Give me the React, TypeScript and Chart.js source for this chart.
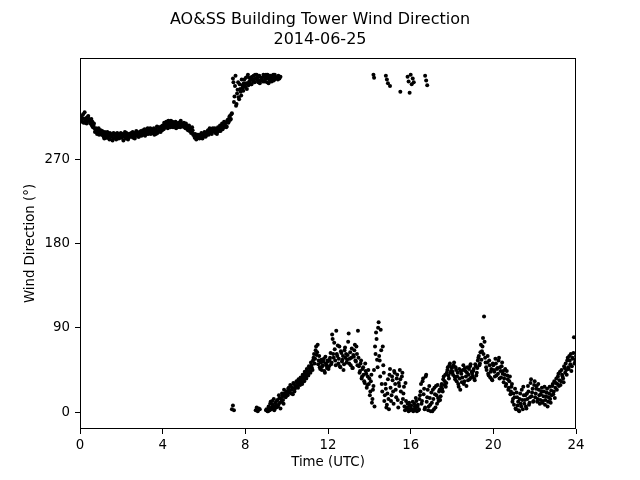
import React, { useEffect, useRef } from "react";
import { Chart, registerables } from "chart.js";

Chart.register(...registerables);

const TITLE_LINES = ["AO&SS Building Tower Wind Direction", "2014-06-25"];
const X_LABEL = "Time (UTC)";
const Y_LABEL = "Wind Direction (°)";
const X_TICKS = [0, 4, 8, 12, 16, 20, 24];
const Y_TICKS = [0, 90, 180, 270];

// Sampling interval of each reading list (hours)
const STEP = 0.05;

// Morning band (from 00:00)
const MORNING_START = 0;
const morningValues = [
  312, 315, 310, 318, 313, 309, 314, 311, 316, 312,
  308, 313, 310, 306, 303, 300, 302, 298, 303, 299,
  301, 296, 298, 294, 299, 295, 297, 293, 296, 298,
  294, 297, 292, 296, 295, 291, 298, 294, 296, 293,
  297, 295, 290, 296, 294, 298, 295, 293, 297, 296,
  294, 299, 296, 292, 297, 295, 298, 294, 296, 300,
  297, 301, 298, 295, 300, 302, 297, 299, 303, 298,
  301, 299, 296, 302, 300, 298, 304, 301, 299, 303,
  306, 302, 308, 304, 307, 303, 309, 305, 311, 306,
  304, 308, 306, 303, 307, 305, 309, 304, 306, 308,
  305, 307, 303, 306, 302, 304, 300, 303, 299, 301,
  297, 293, 295, 292, 294, 296, 293, 295, 297, 294,
  296, 298, 295, 299, 301, 298, 300, 302, 299, 301,
  300, 298, 302, 299, 301, 303, 300, 305, 302, 304,
  306, 309, 305, 312, 310, 316, 313, 319,
];
const MORNING_START_B = 0.025;
const morningValuesB = [
  316, 311, 314, 309, 320, 312, 308, 315, 313, 310,
  311, 306, 304, 308, 299, 303, 297, 301, 296, 300,
  297, 300, 295, 292, 297, 293, 299, 295, 291, 296,
  295, 290, 298, 293, 297, 294, 296, 292, 295, 298,
  293, 297, 294, 299, 292, 296, 291, 297, 294, 298,
  296, 293, 298, 295, 300, 297, 294, 299, 297, 295,
  299, 296, 302, 299, 297, 303, 300, 301, 297, 302,
  298, 303, 300, 297, 305, 299, 302, 300, 305, 301,
  304, 309, 305, 310, 306, 311, 307, 304, 308, 310,
  307, 305, 310, 307, 304, 309, 306, 311, 307, 305,
  309, 304, 308, 305, 301, 306, 302, 298, 304, 296,
  295, 297, 291, 296, 293, 292, 295, 298, 292, 296,
  299, 294, 297, 300, 296, 303, 299, 297, 303, 300,
  303, 301, 297, 304, 300, 306, 302, 308, 304, 310,
  308, 304, 311, 309, 315, 312, 318,
];

// Northerly band after the shift (from 07:24)
const NORTH_START = 7.4;
const northValues = [
  356, 331, 348, 327, 340, 352, 334, 345, 338, 349,
  343, 355, 347, 351, 358, 349, 353, 357, 350, 355,
  359, 352, 356, 360, 354, 358, 351, null, 357, 353,
  358, 355, 360, 352, 357, 359, 354, 358, 356, 360,
  355, 358, null, 357, 359, 356, 358,
];
const NORTH_START_B = 7.425;
const northValuesB = [
  352, 337, 359, 329, 344, 336, 350, 342, 355, 346,
  351, 348, 357, 345, 360, 352, 356, 350, 358, 353,
  355, 360, null, 357, 352, 359, 354, 356, null, 360,
  353, 358, 356, 360, 351, 355, 359, 353, 357, 354,
  360, 356, null, 355, 358,
];

// Wrapped values just past north around 07:21
const WRAP_START = 7.35;
const wrapValues = [3, 7, 2];

// Wrapped values around 08:30
const WRAP2_START = 8.5;
const wrap2Values = [2, 5, 1, 4, 3];

// Main low band from 09:00 to 24:00
const LOW_START = 9.0;
const lowValues = [
  2, null, 1, 4, 9, 3, 12, 6, 2, 10,
  5, 13, 8, 15, 4, 11, 17, 9, 20, 16,
  22, 18, 26, 21, 28, 24, 19, 30, 25, 27,
  31, 26, 33, 29, 35, 30, 38, 33, 41, 36,
  44, 39, 47, 42, 50, 45, 58, 52, 66, 61,
  72, 55, 48, 53, 45, 50, 57, 42, 52, 47,
  54, 49, 58, 51, 83, 62, 74, 55, 87, 60,
  52, 70, 48, 63, 56, 45, 66, 58, 53, 61,
  84, 57, 50, 68, 47, 59, 72, 54, 62, 87,
  49, 44, 55, 38, 48, 33, 52, 41, 29, 45,
  36, 22, 40, 14, 28, 6, 62, 78, 48, 96,
  55, 88, 30, 70, 42, 18, 25, 8, 35, 3,
  46, 12, 38, 22, 44, 30, 16, 40, 5, 28,
  35, 10, 42, 20, 6, 31, 3, 9, 1, 7,
  4, null, 11, 2, 6, 15, 1, 8, 3, 18,
  30, 12, 36, 25, 5, 40, 16, 2, 28, 8,
  21, 1, 14, 26, 5, 18, 29, 12, 24, 17,
  30, 22, 38, 33, 27, 42, 48, 36, 52, 44,
  47, 40, 53, 35, 45, 38, 30, 46, 24, 41,
  37, 50, 33, 44, 28, 48, 40, 35, 51, 43,
  38, 46, 34, 49, 42, 55, 60, 52, 72, 65,
  79, 102, 58, 48, 53, 41, 55, 37, 46, 34,
  50, 43, 57, 39, 47, 55, 36, 44, 49, 41,
  32, 40, 28, 44, 35, 26, 38, 22, 30, 14,
  8, 25, 3, 16, 11, 1, 20, 6, 13, 27,
  9, 18, 4, 14, 22, 10, 31, 17, 25, 12,
  33, 20, 28, 14, 24, 9, 19, 26, 12, 22,
  8, 17, 25, 11, 20, 14, 23, 28, 19, 33,
  26, 36, 30, 41, 34, 29, 45, 38, 32, 47,
  52, 40, 58, 46, 55, 62, 49, 57, 80, 53,
  60,
];
const LOW_START_B = 9.025;
const lowValuesB = [
  3, 1, 6, 2, 11, 5, 8, 14, 4, 7,
  12, 6, 18, 10, 14, 20, 13, 24, 18, 21,
  19, 25, 23, 29, 20, 26, 31, 22, 28, 33,
  28, 35, 30, 37, 32, 40, 35, 43, 38, 46,
  41, 49, 44, 53, 47, 55, 62, 57, 70, 64,
  51, 60, 46, 56, 49, 54, 44, 59, 50, 55,
  46, 56, 63, 53, 78, 58, 67, 50, 62, 71,
  57, 49, 65, 54, 60, 51, 69, 62, 56, 75,
  52, 64, 58, 47, 61, 66, 55, 70, 50, 58,
  42, 52, 36, 46, 40, 31, 44, 26, 38, 30,
  18, 33, 10, 24, 45, 70, 85, 56, 90, 60,
  38, 66, 22, 50, 12, 30, 5, 20, 14, 40,
  26, 18, 34, 9, 42, 24, 36, 13, 31, 45,
  22, 38, 14, 27, 2, 12, 5, 3, 10, 2,
  7, 3, 1, 9, 4, 12, 6, 2, 14, 22,
  9, 33, 19, 3, 38, 11, 24, 6, 15, 1,
  10, 24, 3, 19, 28, 9, 15, 22, 13, 27,
  25, 35, 29, 40, 31, 45, 39, 50, 42, 48,
  43, 50, 38, 48, 33, 42, 27, 36, 44, 32,
  45, 30, 47, 38, 42, 34, 46, 49, 37, 41,
  44, 36, 51, 39, 47, 58, 50, 64, 56, 70,
  62, 75, 53, 45, 60, 39, 50, 43, 35, 52,
  45, 38, 52, 46, 41, 58, 48, 37, 53, 44,
  36, 46, 30, 39, 24, 33, 19, 27, 11, 20,
  16, 4, 21, 7, 2, 14, 9, 24, 3, 18,
  13, 6, 20, 28, 8, 16, 35, 21, 11, 29,
  16, 25, 11, 30, 18, 13, 22, 10, 17, 27,
  13, 21, 6, 16, 27, 10, 18, 30, 22, 15,
  31, 24, 38, 28, 43, 33, 40, 36, 49, 42,
  45, 55, 48, 60, 51, 44, 58, 63, 52, 56,
];

// Scattered northerly readings in the afternoon
const lateNorthTimes = [14.2, 14.23, 14.8, 14.85, 14.9, 15.0, 15.5, 15.85, 15.9, 15.95, 16.0, 16.05, 16.1, 16.15, 16.7, 16.75, 16.8];
const lateNorthValues = [360, 357, 359, 355, 351, 348, 342, 358, 353, 341, 360, 350, 356, 352, 359, 354, 349];

type Pt = { x: number; y: number };

function segment(start: number, values: (number | null)[]): Pt[] {
  const out: Pt[] = [];
  values.forEach((v, i) => {
    if (v !== null) out.push({ x: start + i * STEP, y: v });
  });
  return out;
}

function pairs(times: number[], values: number[]): Pt[] {
  return times.map((t, i) => ({ x: t, y: values[i] }));
}

const FONT = "'DejaVu Sans', sans-serif";

const frame = {
  id: "frame",
  afterDraw(chart: any) {
    const { ctx, chartArea } = chart;
    ctx.save();
    ctx.strokeStyle = "#000";
    ctx.lineWidth = 1;
    const l = Math.round(chartArea.left) + 0.5;
    const t = Math.round(chartArea.top) + 0.5;
    const r = Math.round(chartArea.right) - 0.5;
    const b = Math.round(chartArea.bottom) - 0.5;
    ctx.strokeRect(l, t, r - l, b - t);
    ctx.restore();
  },
};

export default function App() {
  const ref = useRef<HTMLCanvasElement | null>(null);

  useEffect(() => {
    if (!ref.current) return;
    const data: Pt[] = [
      ...segment(MORNING_START, morningValues),
      ...segment(MORNING_START_B, morningValuesB),
      ...segment(NORTH_START, northValues),
      ...segment(NORTH_START_B, northValuesB),
      ...segment(WRAP_START, wrapValues),
      ...segment(WRAP2_START, wrap2Values),
      ...segment(LOW_START, lowValues),
      ...segment(LOW_START_B, lowValuesB),
      ...pairs(lateNorthTimes, lateNorthValues),
    ];
    const chart = new Chart(ref.current, {
      type: "scatter",
      data: {
        datasets: [
          {
            data,
            backgroundColor: "#000",
            borderColor: "#000",
            borderWidth: 0,
            pointRadius: 2,
            pointHoverRadius: 2,
            showLine: false,
          },
        ],
      },
      plugins: [frame],
      options: {
        animation: false,
        responsive: false,
        events: [],
        layout: { padding: { top: 10, left: 0, right: 0, bottom: 0 } },
        plugins: {
          legend: { display: false },
          tooltip: { enabled: false },
          title: {
            display: true,
            text: TITLE_LINES,
            color: "#000",
            font: { family: FONT, size: 16, weight: "normal", lineHeight: 1.25 },
            padding: { top: 0, bottom: 8 },
          },
        },
        scales: {
          x: {
            type: "linear",
            min: 0,
            max: 24,
            afterBuildTicks: (s: any) => {
              s.ticks = X_TICKS.map((v) => ({ value: v }));
            },
            afterFit: (s: any) => {
              s.height = 51;
            },
            border: { display: false },
            grid: { display: true, drawOnChartArea: false, drawTicks: true, tickLength: 5, tickColor: "#000", color: "#000" },
            ticks: { color: "#000", padding: 4, maxRotation: 0, font: { family: FONT, size: 13.33 } },
            title: { display: true, text: X_LABEL, color: "#000", padding: { top: 9, bottom: 9 }, font: { family: FONT, size: 13.33 } },
          },
          y: {
            type: "linear",
            min: -18,
            max: 378,
            afterBuildTicks: (s: any) => {
              s.ticks = Y_TICKS.map((v) => ({ value: v }));
            },
            afterFit: (s: any) => {
              s.width = 80;
            },
            border: { display: false },
            grid: { display: true, drawOnChartArea: false, drawTicks: true, tickLength: 5, tickColor: "#000", color: "#000" },
            ticks: { color: "#000", padding: 5, font: { family: FONT, size: 13.33 } },
            title: { display: true, text: Y_LABEL, color: "#000", padding: { top: 23, bottom: 0 }, font: { family: FONT, size: 13.33 } },
          },
          yr: {
            type: "linear",
            position: "right",
            afterFit: (s: any) => {
              s.width = 64;
            },
            border: { display: false },
            grid: { display: false },
            ticks: { display: false },
          },
        },
      } as any,
    });
    return () => chart.destroy();
  }, []);

  return (
    <div style={{ position: "absolute", left: 0, top: 0, width: 640, height: 480, background: "#fff" }}>
      <canvas ref={ref} width={640} height={480} />
    </div>
  );
}
